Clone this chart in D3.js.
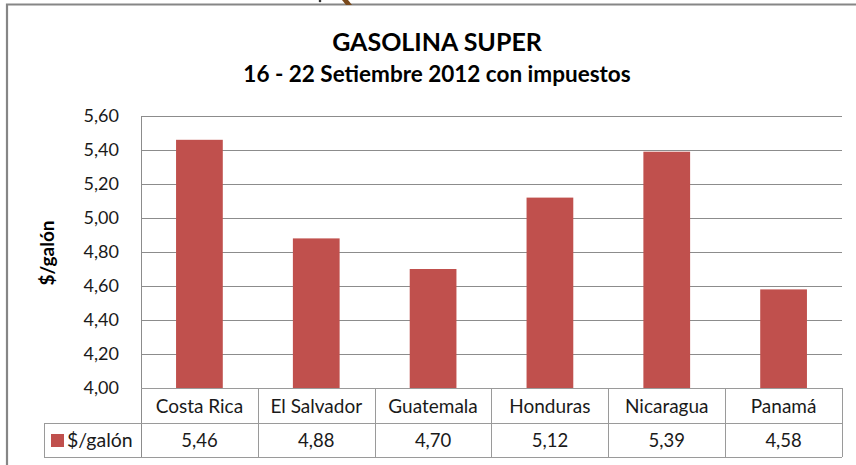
<!DOCTYPE html>
<html lang="es">
<head>
  <meta charset="UTF-8">
  <title>Gasolina Super</title>
  <script src="https://d3js.org/d3.v7.min.js"></script>
  <style>
    body { margin: 0; background: #fff; }
    text { font-family: Lato, "Open Sans", sans-serif; }
  </style>
</head>
<body>
<script>
  // Data
  const countries = ['Costa Rica', 'El Salvador', 'Guatemala', 'Honduras', 'Nicaragua', 'Panamá'];
  const prices = [5.46, 4.88, 4.70, 5.12, 5.39, 4.58];
  const yTicks = [4.0, 4.2, 4.4, 4.6, 4.8, 5.0, 5.2, 5.4, 5.6];
  const seriesName = '$/galón';

  const W = 856, H = 465;
  const plot = {left: 141, right: 842, top: 116, bottom: 388};
  const rows = [388, 423, 457];
  const tableLeft = 44;
  const barColor = '#C0504D';
  const fmt = v => d3.format('.2f')(v).replace('.', ',');

  const svg = d3.select('body').append('svg')
    .attr('width', W)
    .attr('height', H);

  // outer chart frame (runs off the picture on the right and bottom)
  svg.append('path')
    .attr('d', `M7,${H + 5} V4.5 H${W + 5}`)
    .attr('fill', 'none')
    .attr('stroke', '#868686')
    .attr('stroke-width', 2.2);

  // clipped picture stub at the top
  svg.append('path')
    .attr('d', 'M342,0 L348,0 L352,5 L346,5 Z')
    .attr('fill', '#7a4a1c');
  svg.append('circle').attr('cx', 320).attr('cy', 1).attr('r', 1.3).attr('fill', '#333');

  // Titles
  svg.append('text')
    .attr('x', 437).attr('y', 51)
    .attr('text-anchor', 'middle')
    .style('font-size', '25px').style('font-weight', 'bold')
    .text('GASOLINA SUPER');
  svg.append('text')
    .attr('x', 437).attr('y', 82)
    .attr('text-anchor', 'middle')
    .style('font-size', '22.5px').style('font-weight', 'bold')
    .text('16 - 22 Setiembre 2012 con impuestos');

  // Scales
  const x = d3.scaleBand()
    .domain(countries)
    .range([plot.left, plot.right])
    .paddingInner(0.6)
    .paddingOuter(0.3);
  const xCell = d3.scaleBand()
    .domain(countries)
    .range([plot.left, plot.right]);
  const y = d3.scaleLinear()
    .domain([4.0, 5.6])
    .range([plot.bottom, plot.top]);

  // Gridlines
  svg.append('g')
    .selectAll('line')
    .data(yTicks)
    .join('line')
    .attr('x1', plot.left).attr('x2', plot.right)
    .attr('y1', d => Math.round(y(d)) + 0.5).attr('y2', d => Math.round(y(d)) + 0.5)
    .attr('stroke', '#8c8c8c');

  // Y tick labels
  svg.append('g')
    .selectAll('text')
    .data(yTicks)
    .join('text')
    .attr('x', 119)
    .attr('y', d => y(d) + 6)
    .attr('text-anchor', 'end')
    .style('font-size', '18px')
    .style('fill', '#1a1a1a')
    .text(fmt);

  // Y axis title
  svg.append('text')
    .attr('transform', `translate(54,253) rotate(-90)`)
    .attr('text-anchor', 'middle')
    .style('font-size', '19px').style('font-weight', 'bold')
    .text(seriesName);

  // Bars
  svg.append('g')
    .selectAll('rect')
    .data(countries)
    .join('rect')
    .attr('x', d => x(d))
    .attr('width', x.bandwidth())
    .attr('y', (d, i) => y(prices[i]))
    .attr('height', (d, i) => y(4.0) - y(prices[i]))
    .attr('fill', barColor);

  // Left axis line
  svg.append('line')
    .attr('x1', plot.left + 0.5).attr('x2', plot.left + 0.5)
    .attr('y1', plot.top).attr('y2', rows[2])
    .attr('stroke', '#8c8c8c');

  // Data table
  const tbl = svg.append('g').attr('stroke', '#9a9a9a').attr('fill', 'none');
  tbl.append('line').attr('x1', plot.left).attr('x2', plot.right)
    .attr('y1', rows[0] + 0.5).attr('y2', rows[0] + 0.5);
  tbl.append('line').attr('x1', tableLeft).attr('x2', plot.right)
    .attr('y1', rows[1] + 0.5).attr('y2', rows[1] + 0.5);
  tbl.append('line').attr('x1', tableLeft).attr('x2', plot.right)
    .attr('y1', rows[2] + 0.5).attr('y2', rows[2] + 0.5);
  tbl.selectAll('line.v')
    .data(countries)
    .join('line')
    .attr('class', 'v')
    .attr('x1', d => Math.round(xCell(d) + xCell.bandwidth()) + 0.5)
    .attr('x2', d => Math.round(xCell(d) + xCell.bandwidth()) + 0.5)
    .attr('y1', rows[0]).attr('y2', rows[2]);
  tbl.append('line').attr('x1', tableLeft + 0.5).attr('x2', tableLeft + 0.5)
    .attr('y1', rows[1]).attr('y2', rows[2]);

  svg.append('g')
    .selectAll('text')
    .data(countries)
    .join('text')
    .attr('x', d => xCell(d) + xCell.bandwidth() / 2)
    .attr('y', rows[0] + 25)
    .attr('text-anchor', 'middle')
    .style('font-size', '19px')
    .style('fill', '#1a1a1a')
    .text(d => d);

  svg.append('g')
    .selectAll('text')
    .data(countries)
    .join('text')
    .attr('x', d => xCell(d) + xCell.bandwidth() / 2)
    .attr('y', rows[1] + 24)
    .attr('text-anchor', 'middle')
    .style('font-size', '18.5px')
    .style('fill', '#1a1a1a')
    .text((d, i) => fmt(prices[i]));

  // Legend key in the table
  svg.append('rect')
    .attr('x', 51).attr('y', 434).attr('width', 13).attr('height', 13)
    .attr('fill', barColor);
  svg.append('text')
    .attr('x', 67).attr('y', rows[1] + 24)
    .style('font-size', '19.5px')
    .style('fill', '#1a1a1a')
    .text(seriesName);
</script>
</body>
</html>
